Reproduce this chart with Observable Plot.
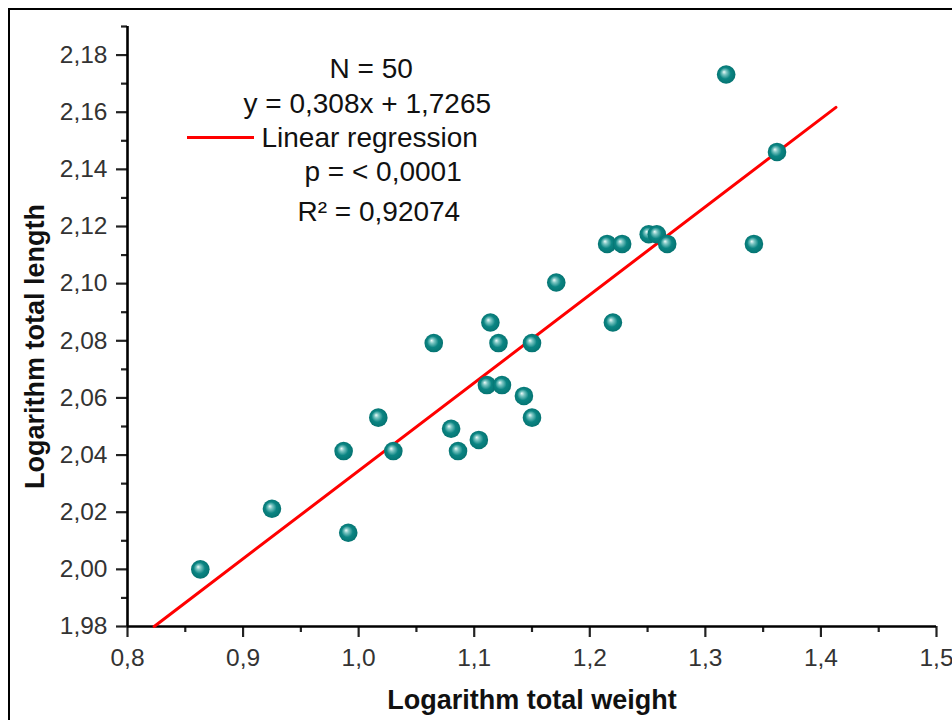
<!DOCTYPE html>
<html>
<head>
<meta charset="utf-8">
<script src="https://cdn.jsdelivr.net/npm/d3@7"></script>
<script src="https://cdn.jsdelivr.net/npm/@observablehq/plot@0.6"></script>
<style>
  html, body { margin: 0; padding: 0; background: #fff; }
  #chart svg { display: block; }
</style>
</head>
<body>
<div id="chart"></div>
<script>
// Data
const logWeight = [0.863, 0.925, 0.987, 0.991, 1.017, 1.030, 1.065, 1.080, 1.086, 1.104, 1.111, 1.114, 1.121, 1.124, 1.143, 1.150, 1.150, 1.171, 1.215, 1.220, 1.228, 1.251, 1.258, 1.267, 1.318, 1.342, 1.362];
const logLength = [2.0000, 2.0212, 2.0414, 2.0128, 2.0531, 2.0414, 2.0792, 2.0492, 2.0414, 2.0453, 2.0645, 2.0864, 2.0792, 2.0645, 2.0607, 2.0792, 2.0531, 2.1004, 2.1139, 2.0864, 2.1139, 2.1173, 2.1173, 2.1139, 2.1732, 2.1139, 2.1461];

// Regression
const slope = 0.308;
const intercept = 1.7265;
const regX = [0.8231, 1.413];

// Ticks
const xMajor = [0.8, 0.9, 1.0, 1.1, 1.2, 1.3, 1.4, 1.5];
const xMinor = [0.85, 0.95, 1.05, 1.15, 1.25, 1.35, 1.45];
const yMajor = [1.98, 2.00, 2.02, 2.04, 2.06, 2.08, 2.10, 2.12, 2.14, 2.16, 2.18];
const yMinor = [1.99, 2.01, 2.03, 2.05, 2.07, 2.09, 2.11, 2.13, 2.15, 2.17, 2.19];

// Annotation texts
const annoLines = ["N = 50", "y = 0,308x + 1,7265", "Linear regression", "p = < 0,0001", "R² = 0,92074"];
const xTitle = "Logarithm total weight";
const yTitle = "Logarithm total length";

const points = logWeight.map((x, i) => ({x, y: logLength[i]}));
const regLine = regX.map(x => ({x, y: slope * x + intercept}));
const comma = f => v => d3.format(f)(v).replace(".", ",");

const font = "'Liberation Sans', Arial, Helvetica, sans-serif";
const annoPos = [
  {dx: 329 - 127, dy: 77 - 26},
  {dx: 243 - 127, dy: 112 - 26},
  {dx: 261 - 127, dy: 146 - 26},
  {dx: 304 - 127, dy: 180 - 26},
  {dx: 297 - 127, dy: 220 - 26}
];

const plot = Plot.plot({
  width: 952,
  height: 720,
  marginLeft: 127,
  marginRight: 16,
  marginTop: 26,
  marginBottom: 94,
  style: {fontFamily: font, fontSize: "24px", color: "#222", background: "#fff", overflow: "visible"},
  x: {domain: [0.8, 1.5], label: null},
  y: {domain: [1.98, 2.19], label: null},
  marks: [
    Plot.axisX({ticks: xMajor, tickSize: 11, tickPadding: 11, strokeWidth: 2.2, tickFormat: comma(".1f"), fill: "#333", label: null, ariaLabel: "x-major"}),
    Plot.axisX({ticks: xMinor, tickSize: 6, strokeWidth: 2.2, tickFormat: () => "", label: null}),
    Plot.axisY({ticks: yMajor, tickSize: 11, tickPadding: 9, strokeWidth: 2.2, tickFormat: comma(".2f"), fill: "#333", label: null}),
    Plot.axisY({ticks: yMinor, tickSize: 6, strokeWidth: 2.2, tickFormat: () => "", label: null}),
    Plot.ruleX([0.8], {stroke: "#000", strokeWidth: 2.6}),
    Plot.ruleY([1.98], {stroke: "#000", strokeWidth: 2.6}),
    Plot.line(regLine, {x: "x", y: "y", stroke: "#ff0000", strokeWidth: 3}),
    Plot.dot(points, {x: "x", y: "y", r: 9.3, fill: "url(#sphere)", stroke: "none"}),
    ...annoLines.map((t, i) => Plot.text([t], {
      frameAnchor: "top-left", text: d => d, textAnchor: "start", lineAnchor: "bottom",
      dx: annoPos[i].dx, dy: annoPos[i].dy, fontSize: 28, fill: "#111"
    })),
    Plot.text([xTitle], {frameAnchor: "bottom", text: d => d, textAnchor: "middle", lineAnchor: "bottom", dy: 82, fontSize: 27, fontWeight: "bold", fill: "#111"}),
    Plot.text([yTitle], {frameAnchor: "left", text: d => d, rotate: -90, textAnchor: "middle", lineAnchor: "middle", dx: -92, dy: 20, fontSize: 27, fontWeight: "bold", fill: "#111"})
  ]
});

const svg = d3.select(plot);
// enlarge tick labels
svg.selectAll('g[aria-label$="tick label"]').attr("font-size", "24.5px").style("font-size", "24.5px");
svg.selectAll('g[aria-label$="tick label"] text').style("font-size", "24.5px");

const defs = svg.insert("defs", ":first-child");
const grad = defs.append("radialGradient").attr("id", "sphere")
  .attr("cx", "0.5").attr("cy", "0.5").attr("r", "0.55").attr("fx", "0.38").attr("fy", "0.36");
grad.append("stop").attr("offset", "0").attr("stop-color", "#f0fbfa");
grad.append("stop").attr("offset", "0.22").attr("stop-color", "#7cc6c3");
grad.append("stop").attr("offset", "0.55").attr("stop-color", "#0b8583");
grad.append("stop").attr("offset", "1").attr("stop-color", "#04706e");

// page border (decoration)
svg.append("rect").attr("x", 9).attr("y", 9).attr("width", 1000).attr("height", 1000)
  .attr("fill", "none").attr("stroke", "#000").attr("stroke-width", 2);
// legend swatch
svg.append("line").attr("x1", 187).attr("x2", 254).attr("y1", 137.5).attr("y2", 137.5)
  .attr("stroke", "#ff0000").attr("stroke-width", 3);

document.getElementById("chart").appendChild(plot);
</script>
</body>
</html>
